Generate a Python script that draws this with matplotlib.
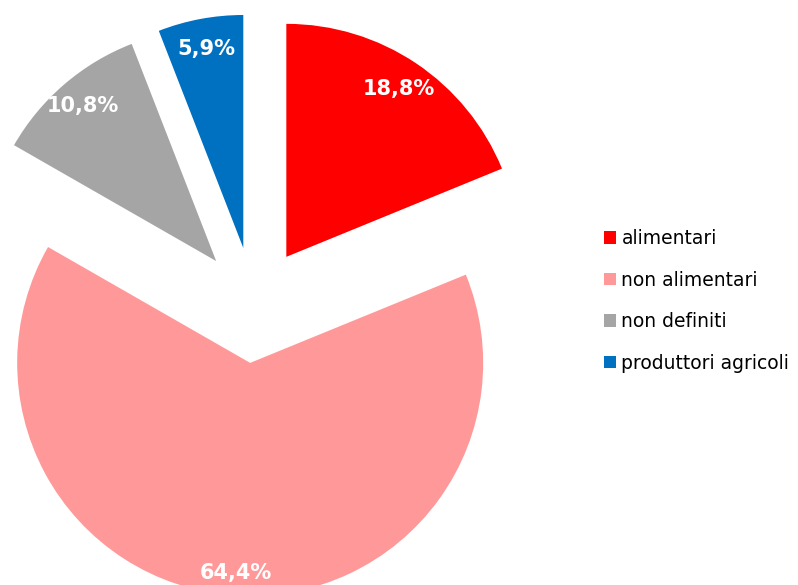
import numpy as np
import matplotlib.pyplot as plt
from matplotlib.patches import Patch

# Data
categories = ['alimentari', 'non alimentari', 'non definiti', 'produttori agricoli']
shares = [18.8, 64.4, 10.8, 5.9]
pct_labels = ['18,8%', '64,4%', '10,8%', '5,9%']
colors = ['#FF0000', '#FF9999', '#A5A5A5', '#0070C0']
label_dist = [0.87, 0.905, 0.88, 0.87]

fig = plt.figure(figsize=(7.98, 5.85), dpi=100)
ax = fig.add_axes([0, 0, 1, 1])

# axes in pixel units; explode is in data units here
wedges, _ = ax.pie(shares, colors=colors, startangle=90, counterclock=False,
                   explode=[58] * len(shares), radius=233, center=(254, 280),
                   frame=True)
ax.set_xlim(0, 798)
ax.set_ylim(0, 585)
ax.set_aspect('equal')
ax.axis('off')

# Percentage labels inside the slices
for w, lab, d in zip(wedges, pct_labels, label_dist):
    ang = np.deg2rad((w.theta1 + w.theta2) / 2)
    cx, cy = w.center
    r = d * w.r
    ax.text(cx + r * np.cos(ang), cy + r * np.sin(ang), lab,
            ha='center', va='center', color='white', fontsize=15,
            fontweight='bold')

handles = [Patch(facecolor=c, edgecolor='none') for c in colors]
fig.legend(handles, categories, loc='upper left', bbox_to_anchor=(0.747, 0.621),
           frameon=False, fontsize=13.5, handlelength=0.65, handleheight=0.65,
           handletextpad=0.3, labelspacing=1.2, borderaxespad=0)

fig.savefig('out.png', dpi=100)
